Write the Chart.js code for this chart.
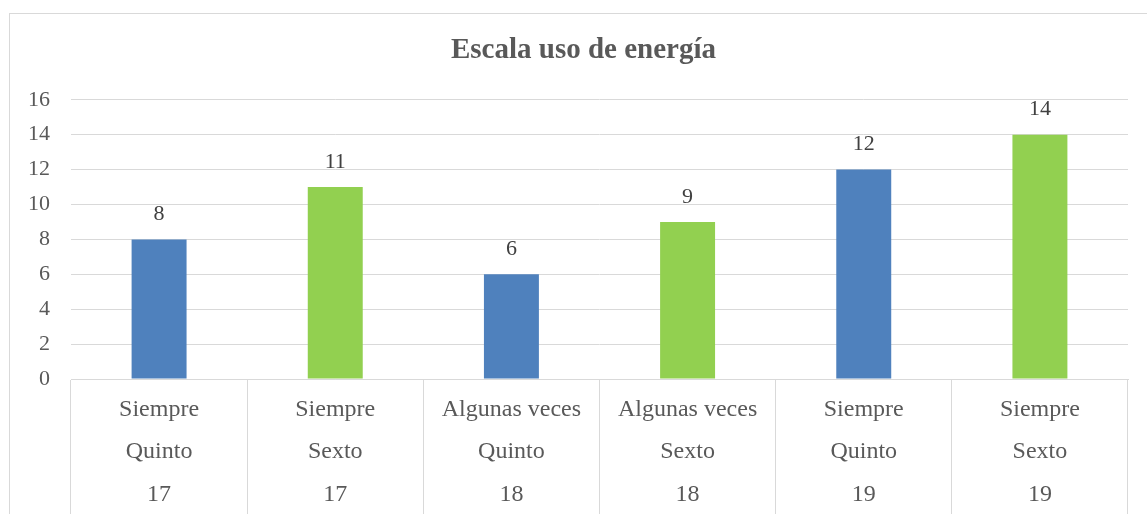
<!DOCTYPE html>
<html>
<head>
<meta charset="utf-8">
<script src="https://cdn.jsdelivr.net/npm/chart.js"></script>
<style>
  html, body { margin: 0; padding: 0; background: #fff; }
  #wrap { width: 1147px; height: 514px; }
</style>
</head>
<body>
<div id="wrap"><canvas id="energiaChart" width="1147" height="514"></canvas></div>
<script>
// Datos del gráfico
const respuestas = ['Siempre', 'Siempre', 'Algunas veces', 'Algunas veces', 'Siempre', 'Siempre'];
const grados = ['Quinto', 'Sexto', 'Quinto', 'Sexto', 'Quinto', 'Sexto'];
const items = ['17', '17', '18', '18', '19', '19'];
const valores = [8, 11, 6, 9, 12, 14];
const yMin = 0, yMax = 16, yStep = 2;

const AZUL = '#4f81bd';
const VERDE = '#92d050';
const GRIS = '#d9d9d9';
const TEXTO = '#595959';
const FUENTE = "'Liberation Serif', 'Times New Roman', serif";

// Etiquetas multinivel: respuesta / grado / ítem
const etiquetas = respuestas.map((r, i) => [r, grados[i], items[i]]);
const colores = grados.map(g => g === 'Quinto' ? AZUL : VERDE);

// Marco exterior del gráfico (y centrado del título sobre el marco)
const marco = {
    id: 'marco',
    afterLayout(chart) {
        chart.titleBlock.left = 9;
        chart.titleBlock.right = 1158;
    },
    beforeDraw(chart) {
        const ctx = chart.ctx;
        ctx.save();
        ctx.strokeStyle = GRIS;
        ctx.lineWidth = 1;
        ctx.strokeRect(9.5, 13.5, 1200, 600);
        ctx.restore();
    }
};

// Valores encima de las barras
const valoresBarras = {
    id: 'valoresBarras',
    afterDatasetsDraw(chart) {
        const ctx = chart.ctx;
        const meta = chart.getDatasetMeta(0);
        ctx.save();
        ctx.fillStyle = '#404040';
        ctx.font = '22px ' + FUENTE;
        ctx.textAlign = 'center';
        ctx.textBaseline = 'middle';
        meta.data.forEach((bar, i) => {
            ctx.fillText(String(valores[i]), bar.x, bar.y - 25);
        });
        ctx.restore();
    }
};

new Chart(document.getElementById('energiaChart'), {
    type: 'bar',
    data: {
        labels: etiquetas,
        datasets: [{
            data: valores,
            backgroundColor: colores,
            borderWidth: 0,
            barPercentage: 1,
            categoryPercentage: 0.312
        }]
    },
    options: {
        responsive: false,
        animation: false,
        layout: { padding: { left: 0, right: 19, top: 0, bottom: 0 } },
        plugins: {
            legend: { display: false },
            tooltip: { enabled: false },
            title: {
                display: true,
                text: 'Escala uso de energía',
                color: TEXTO,
                font: { family: FUENTE, size: 29, weight: 'bold', lineHeight: 1.2 },
                padding: { top: 33, bottom: 32 }
            }
        },
        scales: {
            x: {
                grid: {
                    offset: true,
                    drawOnChartArea: false,
                    drawTicks: true,
                    tickLength: 140,
                    color: GRIS
                },
                border: { display: true, color: GRIS },
                ticks: {
                    color: TEXTO,
                    font: { family: FUENTE, size: 24, lineHeight: 42.5 / 24 },
                    padding: -131,
                    maxRotation: 0,
                    autoSkip: false
                },
                afterFit(scale) { scale.height = 135; }
            },
            y: {
                min: yMin,
                max: yMax,
                grid: { color: GRIS, drawTicks: false },
                border: { display: false },
                ticks: {
                    stepSize: yStep,
                    color: TEXTO,
                    font: { family: FUENTE, size: 22 },
                    padding: 21
                },
                afterFit(scale) { scale.width = 71; }
            }
        }
    },
    plugins: [marco, valoresBarras]
});
</script>
</body>
</html>
